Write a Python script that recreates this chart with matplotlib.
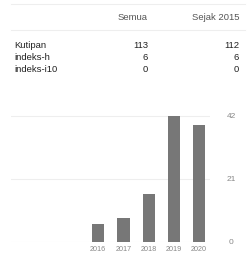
import matplotlib
matplotlib.use("Agg")
import matplotlib.pyplot as plt
from matplotlib.lines import Line2D

plt.rcParams['font.family'] = ['Liberation Sans', 'DejaVu Sans']

years = ["2016", "2017", "2018", "2019", "2020"]
citations = [6, 8, 16, 42, 39]
yticks = [0, 21, 42]

col_headers = ["Semua", "Sejak 2015"]
row_labels = ["Kutipan", "indeks-h", "indeks-i10"]
col_all = [113, 6, 0]
col_since = [112, 6, 0]

W, H = 252, 255
fig = plt.figure(figsize=(W / 100, H / 100), dpi=100)
fig.patch.set_facecolor("white")

def fx(x):
    return x / W

def fy(y):
    return 1 - y / H

# table lines
for yy in [5, 31]:
    fig.add_artist(Line2D([fx(11), fx(245)], [fy(yy), fy(yy)], color="#eeeeee", lw=0.8))

# header
fig.text(fx(148), fy(18), col_headers[0], ha="right", va="center", fontsize=6.8, color="#555555")
fig.text(fx(239), fy(18), col_headers[1], ha="right", va="center", fontsize=6.8, color="#555555")

row_y = [45, 57, 70]
for lab, a, s, yy in zip(row_labels, col_all, col_since, row_y):
    fig.text(fx(14), fy(yy), lab, ha="left", va="center", fontsize=6.8, color="#222222")
    fig.text(fx(148), fy(yy), str(a), ha="right", va="center", fontsize=6.8, color="#222222")
    fig.text(fx(239), fy(yy), str(s), ha="right", va="center", fontsize=6.8, color="#222222")

# chart axes: x from 11 to 210 px, y from baseline upwards
ax_left, ax_right = 11, 210
base = 242.5
ax_bottom, ax_top = base, 100
ax = fig.add_axes([fx(ax_left), fy(ax_bottom), (ax_right - ax_left) / W, (ax_bottom - ax_top) / H])
ax.set_facecolor("none")
px_per_unit = (base - 116.5) / 42
ax.set_ylim(0, (ax_bottom - ax_top) / px_per_unit)
step = 25.2
c0 = 98.3
ax.set_xlim((ax_left - c0) / step, (ax_right - c0) / step)

xs = list(range(len(years)))
ax.bar(xs, citations, width=0.48, color="#777777", zorder=3)
for t in yticks:
    ax.axhline(t, color="#eeeeee", lw=0.8, zorder=1)
for spine in ax.spines.values():
    spine.set_visible(False)
ax.set_yticks([])
ax.set_xticks(xs)
ax.set_xticklabels(years, fontsize=5.2, color="#888888")
ax.tick_params(axis="x", length=0, pad=2.2)

for t in yticks:
    yy = base - t * px_per_unit
    fig.text(fx(231), fy(yy), str(t), ha="center", va="center", fontsize=6, color="#888888")

fig.savefig("out.png", dpi=100, facecolor="white")
